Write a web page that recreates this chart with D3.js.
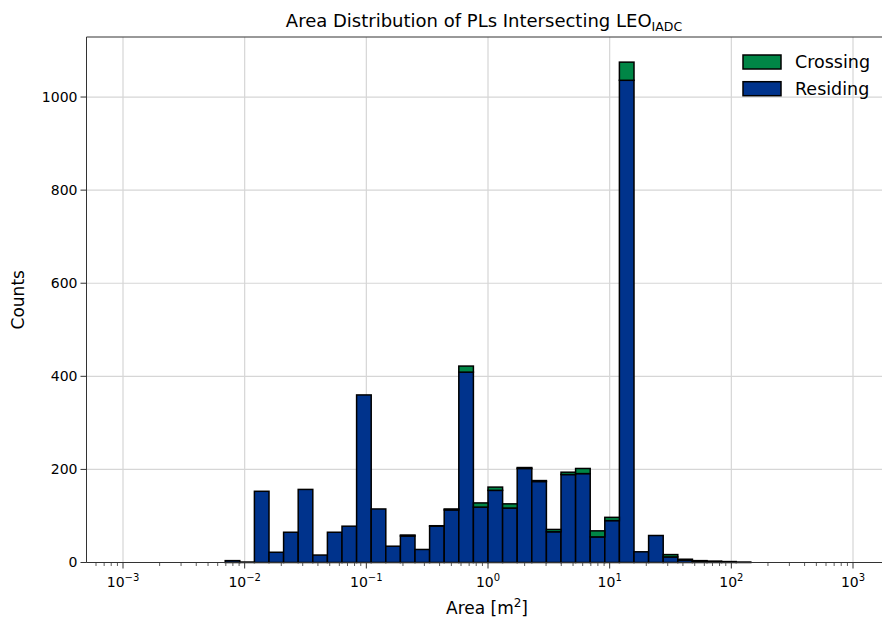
<!DOCTYPE html>
<html>
<head>
<meta charset="utf-8">
<script src="https://cdn.jsdelivr.net/npm/d3@7"></script>
<style>
  body { margin: 0; background: #fff; overflow: hidden; }
  text { font-family: "DejaVu Sans", sans-serif; fill: #000; }
</style>
</head>
<body>
<div id="chart"></div>
<script>
// 50 log-spaced bins from 1e-3 to 1e3
const binExponents = d3.range(51).map(i => -3 + i * 0.12);

const residing = [0, 0, 0, 0, 0, 0, 0, 4, 1, 153,
                  22, 65, 157, 16, 65, 78, 360, 115, 35, 57,
                  28, 78, 113, 409, 119, 155, 117, 202, 174, 66,
                  189, 191, 55, 90, 1036, 23, 58, 12, 5, 3,
                  3, 2, 1, 0, 0, 0, 0, 0, 0, 0];
const crossing = [0, 0, 0, 0, 0, 0, 0, 0, 0, 0,
                  0, 0, 0, 0, 0, 0, 0, 0, 0, 2,
                  0, 1, 2, 13, 9, 7, 9, 2, 2, 5,
                  5, 11, 13, 7, 39, 0, 0, 5, 2, 1,
                  0, 0, 0, 0, 0, 0, 0, 0, 0, 0];
const seriesNames = ["Crossing", "Residing"];
const yTicks = [0, 200, 400, 600, 800, 1000];
const xDecades = [-3, -2, -1, 0, 1, 2, 3];

const W = 882, H = 623;
const pLeft = 86.5, pRight = 889.5, pTop = 37, pBottom = 562.5;
const green = "#008646", blue = "#00338c";

const svg = d3.select("#chart").append("svg")
    .attr("width", W)
    .attr("height", H);

const x = d3.scaleLog()
    .domain([Math.pow(10, -3.3), Math.pow(10, 3.3)])
    .range([pLeft, pRight]);

const y = d3.scaleLinear()
    .domain([0, 1129])
    .range([pBottom, pTop]);

// grid
svg.append("g").selectAll("line")
    .data(xDecades)
    .enter().append("line")
    .attr("x1", d => x(Math.pow(10, d)))
    .attr("x2", d => x(Math.pow(10, d)))
    .attr("y1", pTop)
    .attr("y2", pBottom)
    .attr("stroke", "#d6d6d6")
    .attr("stroke-width", 1.2);

svg.append("g").selectAll("line")
    .data(yTicks)
    .enter().append("line")
    .attr("x1", pLeft)
    .attr("x2", pRight)
    .attr("y1", d => y(d))
    .attr("y2", d => y(d))
    .attr("stroke", "#d6d6d6")
    .attr("stroke-width", 1.2);

// bars
const bins = residing.map((r, i) => ({
    x0: Math.pow(10, binExponents[i]),
    x1: Math.pow(10, binExponents[i + 1]),
    res: r,
    cross: crossing[i]
}));

const barG = svg.append("g");
barG.selectAll(".res")
    .data(bins)
    .enter().append("rect")
    .attr("class", "res")
    .attr("x", d => x(d.x0))
    .attr("width", d => x(d.x1) - x(d.x0))
    .attr("y", d => y(d.res))
    .attr("height", d => y(0) - y(d.res))
    .attr("fill", blue)
    .attr("stroke", "#000")
    .attr("stroke-width", 1.5);

barG.selectAll(".cross")
    .data(bins.filter(d => d.cross > 0))
    .enter().append("rect")
    .attr("class", "cross")
    .attr("x", d => x(d.x0))
    .attr("width", d => x(d.x1) - x(d.x0))
    .attr("y", d => y(d.res + d.cross))
    .attr("height", d => y(d.res) - y(d.res + d.cross))
    .attr("fill", green)
    .attr("stroke", "#000")
    .attr("stroke-width", 1.5);

// spines
svg.append("line").attr("x1", pLeft).attr("x2", pRight).attr("y1", pTop).attr("y2", pTop)
    .attr("stroke", "#333").attr("stroke-width", 1);
svg.append("line").attr("x1", pLeft).attr("x2", pRight).attr("y1", pBottom).attr("y2", pBottom)
    .attr("stroke", "#333").attr("stroke-width", 1);
svg.append("line").attr("x1", pLeft).attr("x2", pLeft).attr("y1", pTop).attr("y2", pBottom)
    .attr("stroke", "#333").attr("stroke-width", 1);

// x ticks
const minor = [];
for (let e = -4; e <= 3; e++) {
    for (let m = 2; m <= 9; m++) {
        const v = m * Math.pow(10, e);
        if (x(v) >= pLeft && x(v) <= pRight) minor.push(v);
    }
}
svg.append("g").selectAll("line")
    .data(minor)
    .enter().append("line")
    .attr("x1", d => x(d)).attr("x2", d => x(d))
    .attr("y1", pBottom).attr("y2", pBottom + 3.5)
    .attr("stroke", "#333").attr("stroke-width", 0.8);

const xt = svg.append("g").selectAll("g")
    .data(xDecades)
    .enter().append("g")
    .attr("transform", d => `translate(${x(Math.pow(10, d))},0)`);
xt.append("line")
    .attr("y1", pBottom).attr("y2", pBottom + 6)
    .attr("stroke", "#333").attr("stroke-width", 1);
const xl = xt.append("text")
    .attr("y", 587)
    .attr("text-anchor", "middle")
    .style("font-size", "14px");
xl.append("tspan").text("10");
xl.append("tspan")
    .attr("dy", -6)
    .style("font-size", "10px")
    .text(d => d < 0 ? "\u2212" + (-d) : d);

// y ticks
const yt = svg.append("g").selectAll("g")
    .data(yTicks)
    .enter().append("g")
    .attr("transform", d => `translate(0,${y(d)})`);
yt.append("line")
    .attr("x1", pLeft - 6).attr("x2", pLeft)
    .attr("stroke", "#333").attr("stroke-width", 1);
yt.append("text")
    .attr("x", pLeft - 9)
    .attr("dy", "0.35em")
    .attr("text-anchor", "end")
    .style("font-size", "14px")
    .text(d => d);

// labels
const xlab = svg.append("text")
    .attr("x", 487)
    .attr("y", 614)
    .attr("text-anchor", "middle")
    .style("font-size", "17px");
xlab.append("tspan").text("Area [m");
xlab.append("tspan").attr("dy", -7).style("font-size", "12px").text("2");
xlab.append("tspan").attr("dy", 7).text("]");

svg.append("text")
    .attr("transform", "rotate(-90)")
    .attr("x", -(pTop + pBottom) / 2)
    .attr("y", 24)
    .attr("text-anchor", "middle")
    .style("font-size", "17px")
    .text("Counts");

const title = svg.append("text")
    .attr("x", 484)
    .attr("y", 27)
    .attr("text-anchor", "middle")
    .style("font-size", "18px");
title.append("tspan").text("Area Distribution of PLs Intersecting LEO");
title.append("tspan").attr("dy", 4).style("font-size", "12.5px").text("IADC");

// legend
const legend = svg.selectAll(".legend")
    .data(seriesNames)
    .enter().append("g")
    .attr("class", "legend")
    .attr("transform", (d, i) => `translate(743,${55 + i * 26.7})`);
legend.append("rect")
    .attr("width", 38)
    .attr("height", 14)
    .attr("fill", d => d === "Crossing" ? green : blue)
    .attr("stroke", "#000")
    .attr("stroke-width", 1.5);
legend.append("text")
    .attr("x", 52)
    .attr("y", 13)
    .style("font-size", "17.5px")
    .text(d => d);
</script>
</body>
</html>
